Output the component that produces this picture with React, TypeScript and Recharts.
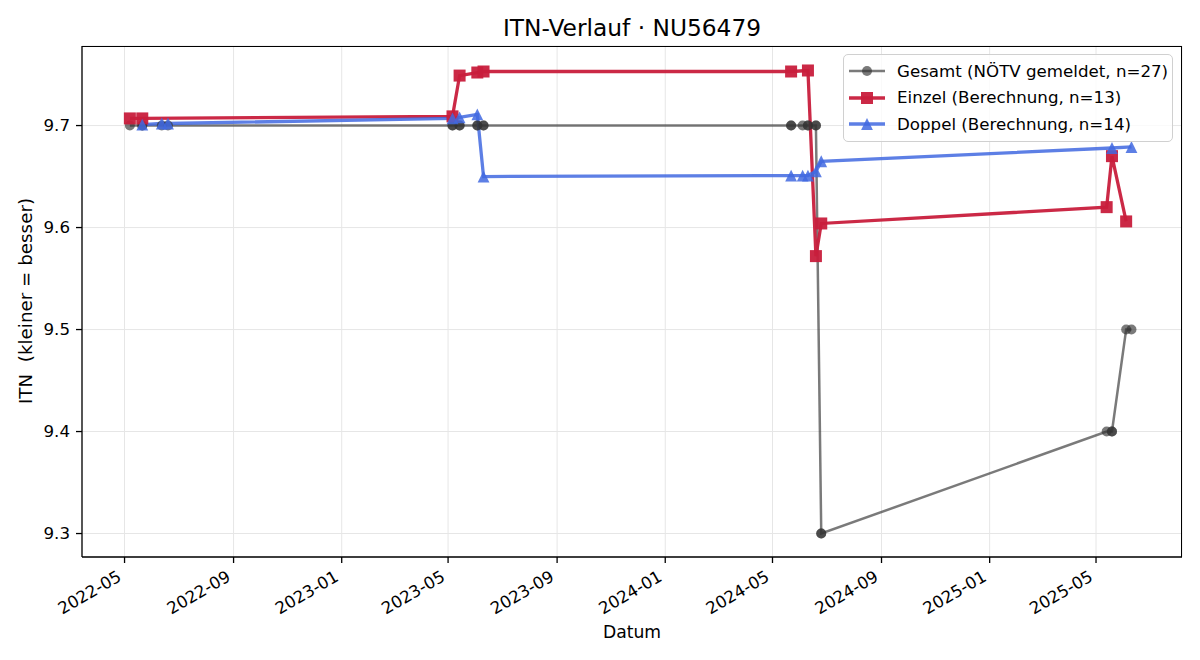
import React from 'react';
import { LineChart, Line, XAxis, YAxis, CartesianGrid } from 'recharts';

// Gesamt = all matches reported by the federation
const gesamtDates = [
  '2022-05-07', '2022-05-21', '2022-05-21', '2022-06-12', '2022-06-19',
  '2023-05-06', '2023-05-06', '2023-05-14', '2023-05-14', '2023-06-03', '2023-06-03',
  '2023-06-10', '2023-06-10', '2024-05-22', '2024-05-22', '2024-06-04', '2024-06-10',
  '2024-06-10', '2024-06-19', '2024-06-19', '2024-06-25', '2024-06-25', '2025-05-13',
  '2025-05-19', '2025-05-19', '2025-06-04', '2025-06-10',
];
const gesamtValues = [
  9.7, 9.7, 9.7, 9.7, 9.7,
  9.7, 9.7, 9.7, 9.7, 9.7, 9.7,
  9.7, 9.7, 9.7, 9.7, 9.7, 9.7,
  9.7, 9.7, 9.7, 9.3, 9.3, 9.4,
  9.4, 9.4, 9.5, 9.5,
];

const einzelDates = [
  '2022-05-07', '2022-05-21', '2023-05-06', '2023-05-14', '2023-06-03', '2023-06-10',
  '2024-05-22', '2024-06-10', '2024-06-19', '2024-06-25', '2025-05-13', '2025-05-19', '2025-06-04',
];
const einzelValues = [
  9.707, 9.707, 9.709, 9.749, 9.752, 9.753,
  9.753, 9.754, 9.572, 9.604, 9.62, 9.67, 9.606,
];

const doppelDates = [
  '2022-05-21', '2022-06-12', '2022-06-19', '2023-05-06', '2023-05-14', '2023-06-03', '2023-06-10',
  '2024-05-22', '2024-06-04', '2024-06-10', '2024-06-19', '2024-06-25', '2025-05-19', '2025-06-10',
];
const doppelValues = [
  9.701, 9.702, 9.702, 9.707, 9.708, 9.711, 9.65,
  9.651, 9.651, 9.651, 9.655, 9.665, 9.678, 9.679,
];

const xTickLabels = [
  '2022-05', '2022-09', '2023-01', '2023-05', '2023-09',
  '2024-01', '2024-05', '2024-09', '2025-01', '2025-05',
];
const yTicks = [9.3, 9.4, 9.5, 9.6, 9.7];

const toTime = (s: string) => {
  const [y, m, d] = s.split('-').map(Number);
  return Date.UTC(y, m - 1, d || 1);
};
const fmtMonth = (t: number) => {
  const d = new Date(t);
  return `${d.getUTCFullYear()}-${String(d.getUTCMonth() + 1).padStart(2, '0')}`;
};

const zip = (dates: string[], values: number[]) =>
  dates.map((d, i) => ({ t: toTime(d), v: values[i] }));

const gesamt = zip(gesamtDates, gesamtValues);
const einzel = zip(einzelDates, einzelValues);
const doppel = zip(doppelDates, doppelValues);

const xDomain = [toTime('2022-03-14'), toTime('2025-08-06')];
const xTicks = xTickLabels.map(toTime);

const FONT = '"DejaVu Sans", sans-serif';
const GREY = '#333333';
const RED = '#c81e3c';
const BLUE = '#4169E1';

const series = [
  { name: 'Gesamt (NÖTV gemeldet, n=27)', color: GREY, opacity: 0.65, width: 2.5, marker: 'circle' },
  { name: 'Einzel (Berechnung, n=13)', color: RED, opacity: 0.95, width: 3.3, marker: 'square' },
  { name: 'Doppel (Berechnung, n=14)', color: BLUE, opacity: 0.85, width: 3.3, marker: 'triangle' },
];

const Marker = ({ kind, cx, cy, color, opacity }: any) => {
  if (kind === 'circle') {
    return <circle cx={cx} cy={cy} r={5} fill={color} fillOpacity={opacity} />;
  }
  if (kind === 'square') {
    return <rect x={cx - 6} y={cy - 6} width={12} height={12} fill={color} fillOpacity={opacity} />;
  }
  const h = 5.9;
  return (
    <path
      d={`M${cx},${cy - h} L${cx + h},${cy + h} L${cx - h},${cy + h} Z`}
      fill={color}
      fillOpacity={opacity}
    />
  );
};

const dotFor = (s: (typeof series)[number], key: string) => (p: any) =>
  <Marker key={`${key}-${p.index}`} kind={s.marker} cx={p.cx} cy={p.cy} color={s.color} opacity={s.opacity} />;

const DateTick = ({ x, y, payload }: any) => {
  const px = x - 2;
  const py = y + 17;
  return (
    <text
      x={px}
      y={py}
      transform={`rotate(-30, ${px}, ${py})`}
      textAnchor="end"
      fontFamily={FONT}
      fontSize={16.67}
      fill="#000"
    >
      {fmtMonth(payload.value)}
    </text>
  );
};

const LegendBox = () => (
  <div
    style={{
      position: 'absolute',
      left: 843,
      top: 54,
      width: 330,
      boxSizing: 'border-box',
      border: '1.3px solid #d0d0d0',
      borderRadius: 5,
      background: 'rgba(255,255,255,0.8)',
      padding: '3px 6px 3px 5px',
      fontFamily: FONT,
      fontSize: 16.67,
      color: '#000',
    }}
  >
    {series.map((s) => (
      <div key={s.name} style={{ display: 'flex', alignItems: 'center', height: 26.5 }}>
        <svg width={36} height={20} style={{ marginRight: 12, flex: 'none' }}>
          <line x1={0} y1={10} x2={36} y2={10} stroke={s.color} strokeOpacity={s.opacity} strokeWidth={s.width} />
          <Marker kind={s.marker} cx={18} cy={10} color={s.color} opacity={s.opacity} />
        </svg>
        <span style={{ whiteSpace: 'nowrap' }}>{s.name}</span>
      </div>
    ))}
  </div>
);

export default function App() {
  return (
    <div style={{ position: 'absolute', left: 0, top: 0, width: 1200, height: 660, background: '#fff' }}>
      <LineChart width={1200} height={660} margin={{ top: 46, right: 18, bottom: 0, left: 0 }}>
        <CartesianGrid stroke="#e6e6e6" strokeWidth={1} />
        <XAxis
          dataKey="t"
          type="number"
          scale="linear"
          domain={xDomain}
          ticks={xTicks}
          allowDataOverflow
          height={103}
          tickSize={6}
          tickMargin={0}
          tick={<DateTick />}
          stroke="#000"
          strokeWidth={1.3}
          interval={0}
        />
        <YAxis
          dataKey="v"
          type="number"
          domain={[9.277, 9.778]}
          ticks={yTicks}
          allowDataOverflow
          width={82}
          tickSize={6}
          tickMargin={6}
          tickFormatter={(v: number) => v.toFixed(1)}
          tick={{ fill: '#000', fontSize: 16.67, fontFamily: FONT }}
          stroke="#000"
          strokeWidth={1.3}
          interval={0}
        />
        <Line
          data={gesamt}
          dataKey="v"
          name={series[0].name}
          stroke={GREY}
          strokeOpacity={series[0].opacity}
          strokeWidth={series[0].width}
          dot={dotFor(series[0], 'g')}
          activeDot={false}
          isAnimationActive={false}
        />
        <Line
          data={einzel}
          dataKey="v"
          name={series[1].name}
          stroke={RED}
          strokeOpacity={series[1].opacity}
          strokeWidth={series[1].width}
          dot={dotFor(series[1], 'e')}
          activeDot={false}
          isAnimationActive={false}
        />
        <Line
          data={doppel}
          dataKey="v"
          name={series[2].name}
          stroke={BLUE}
          strokeOpacity={series[2].opacity}
          strokeWidth={series[2].width}
          dot={dotFor(series[2], 'd')}
          activeDot={false}
          isAnimationActive={false}
        />
      </LineChart>
      {/* axes frame (top and right spines) */}
      <div
        style={{
          position: 'absolute', left: 82, top: 46, width: 1100, height: 511,
          boxSizing: 'border-box', borderTop: '1.3px solid #000', borderRight: '1.3px solid #000',
          pointerEvents: 'none',
        }}
      />
      <LegendBox />
      <div
        style={{
          position: 'absolute', left: 82, width: 1100, top: 13, textAlign: 'center',
          fontFamily: FONT, fontSize: 23.3, color: '#000', lineHeight: '30px',
        }}
      >
        ITN-Verlauf · NU56479
      </div>
      <div
        style={{
          position: 'absolute', left: 82, width: 1100, top: 620, textAlign: 'center',
          fontFamily: FONT, fontSize: 17.2, color: '#000', lineHeight: '24px',
        }}
      >
        Datum
      </div>
      <div
        style={{
          position: 'absolute', left: 26, top: 301, transform: 'translate(-50%, -50%) rotate(-90deg)',
          fontFamily: FONT, fontSize: 18.3, color: '#000', whiteSpace: 'pre', lineHeight: '22px',
        }}
      >
        ITN  (kleiner = besser)
      </div>
    </div>
  );
}
